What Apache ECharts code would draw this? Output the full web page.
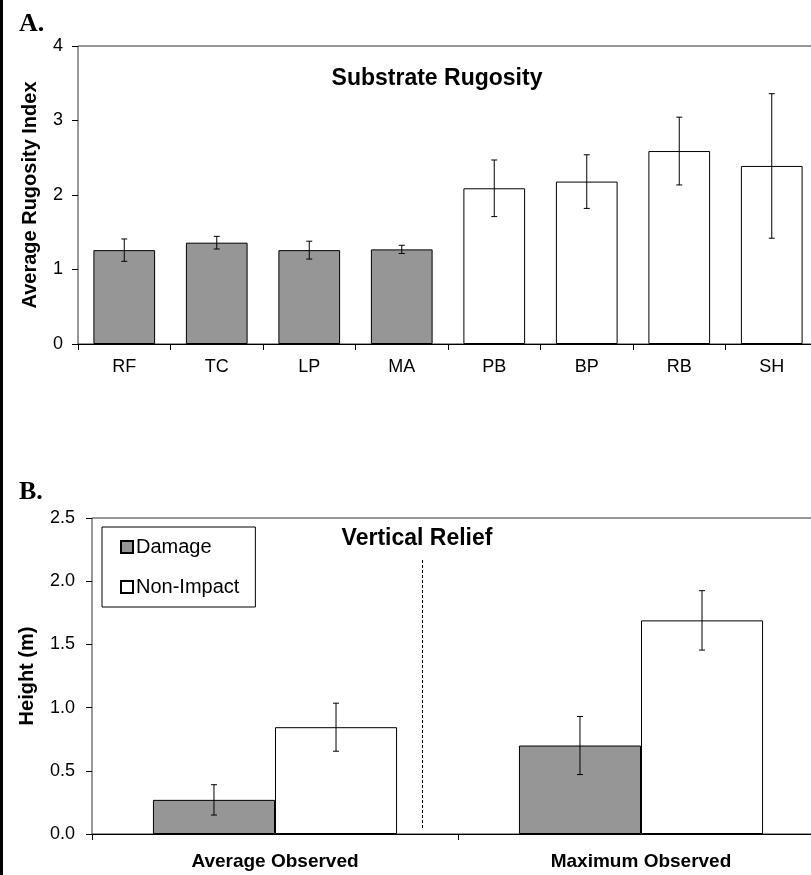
<!DOCTYPE html>
<html>
<head>
<meta charset="utf-8">
<script src="https://cdn.jsdelivr.net/npm/echarts@6/dist/echarts.min.js"></script>
<style>
  html, body { margin: 0; padding: 0; background: #fff; overflow: hidden; }
  /* plot areas run past the right edge of the page, so the canvas is a bit wider */
  #chart { width: 830px; height: 875px; }
</style>
</head>
<body>
<div id="chart"></div>
<script>
// Panel A: substrate rugosity by site
const sites = ['RF', 'TC', 'LP', 'MA', 'PB', 'BP', 'RB', 'SH'];
const rugosityMean = [1.26, 1.36, 1.26, 1.27, 2.09, 2.18, 2.59, 2.39];
const rugosityErr = [0.15, 0.085, 0.12, 0.055, 0.38, 0.36, 0.455, 0.97];
const siteDamaged = [true, true, true, true, false, false, false, false];

// Panel B: vertical relief
const reliefCats = ['Average Observed', 'Maximum Observed'];
const damageHeight = [0.27, 0.70];
const damageErr = [0.12, 0.23];
const nonImpactHeight = [0.845, 1.69];
const nonImpactErr = [0.19, 0.235];

const FONT = "'Liberation Sans', Arial, sans-serif";
const GRAY = '#969696';
const CAT_GAP = 0.333;

// error bar rows: [categoryIndex, low, high]
function errRows(means, errs) {
  return means.map((m, i) => [i, m - errs[i], m + errs[i]]);
}

// vertical whisker with small caps; slot/slots place it over grouped bars
function whisker(slot, slots) {
  return function (params, api) {
    const band = api.size([1, 0])[0];
    const barW = band * (1 - CAT_GAP) / slots;
    const cx = api.coord([api.value(0), 0])[0] + (slot - (slots - 1) / 2) * barW;
    const lo = api.coord([api.value(0), api.value(1)])[1];
    const hi = api.coord([api.value(0), api.value(2)])[1];
    const cap = 3;
    const style = { stroke: '#000', lineWidth: 1 };
    return {
      type: 'group',
      children: [
        { type: 'line', shape: { x1: cx, y1: lo, x2: cx, y2: hi }, style },
        { type: 'line', shape: { x1: cx - cap, y1: hi, x2: cx + cap, y2: hi }, style },
        { type: 'line', shape: { x1: cx - cap, y1: lo, x2: cx + cap, y2: lo }, style }
      ]
    };
  };
}

const axisBase = {
  axisLine: { lineStyle: { color: '#000', width: 1 } },
  axisTick: { show: true, length: 6, lineStyle: { color: '#000' } },
  splitLine: { show: false }
};

const chart = echarts.init(document.getElementById('chart'), null, { renderer: 'canvas' });

chart.setOption({
  animation: false,
  backgroundColor: '#fff',
  textStyle: { fontFamily: FONT, color: '#000' },
  title: [
    { text: 'Substrate Rugosity', left: 432, top: 62, textAlign: 'center',
      textStyle: { fontFamily: FONT, fontSize: 23, fontWeight: 'bold', color: '#000' } },
    { text: 'Vertical Relief', left: 412, top: 522, textAlign: 'center',
      textStyle: { fontFamily: FONT, fontSize: 23, fontWeight: 'bold', color: '#000' } },
    { text: 'A.', left: 14, top: 6,
      textStyle: { fontFamily: "'Liberation Serif', 'Times New Roman', serif", fontSize: 26, fontWeight: 'bold', color: '#000' } },
    { text: 'B.', left: 14, top: 474,
      textStyle: { fontFamily: "'Liberation Serif', 'Times New Roman', serif", fontSize: 26, fontWeight: 'bold', color: '#000' } }
  ],
  legend: {
    data: ['Damage', 'Non-Impact'],
    orient: 'vertical',
    left: 102, top: 527,
    padding: [10, 16, 10, 18],
    itemGap: 20,
    itemWidth: 12, itemHeight: 12,
    icon: 'rect',
    borderColor: '#000', borderWidth: 1,
    backgroundColor: '#fff',
    textStyle: { fontFamily: FONT, fontSize: 20, color: '#000', padding: [0, 0, 0, -2] }
  },
  grid: [
    { left: 78, top: 46, width: 740, height: 298, show: true, borderColor: '#333', borderWidth: 1, backgroundColor: 'transparent' },
    { left: 92, top: 518, width: 732, height: 316, show: true, borderColor: '#333', borderWidth: 1, backgroundColor: 'transparent' }
  ],
  xAxis: [
    Object.assign({}, axisBase, {
      type: 'category', gridIndex: 0, data: sites,
      axisLabel: { fontFamily: FONT, fontSize: 18, color: '#000', margin: 14 }
    }),
    Object.assign({}, axisBase, {
      type: 'category', gridIndex: 1, data: reliefCats,
      axisLabel: { fontFamily: FONT, fontSize: 19, fontWeight: 'bold', color: '#000', margin: 18 }
    })
  ],
  yAxis: [
    Object.assign({}, axisBase, {
      type: 'value', gridIndex: 0, min: 0, max: 4, interval: 1,
      name: 'Average Rugosity Index', nameLocation: 'middle', nameGap: 38,
      nameTextStyle: { fontFamily: FONT, fontSize: 20, fontWeight: 'bold', color: '#000' },
      axisLabel: { fontFamily: FONT, fontSize: 18, color: '#000', margin: 15 }
    }),
    Object.assign({}, axisBase, {
      type: 'value', gridIndex: 1, min: 0, max: 2.5, interval: 0.5,
      name: 'Height (m)', nameLocation: 'middle', nameGap: 55,
      nameTextStyle: { fontFamily: FONT, fontSize: 20, fontWeight: 'bold', color: '#000' },
      axisLabel: { fontFamily: FONT, fontSize: 18, color: '#000', margin: 17,
        formatter: v => v.toFixed(1) }
    })
  ],
  series: [
    {
      name: 'Rugosity', type: 'bar', xAxisIndex: 0, yAxisIndex: 0,
      barCategoryGap: '33.3%',
      data: rugosityMean,
      itemStyle: {
        color: p => siteDamaged[p.dataIndex] ? GRAY : '#fff',
        borderColor: '#000', borderWidth: 1
      }
    },
    {
      name: 'Rugosity error', type: 'custom', xAxisIndex: 0, yAxisIndex: 0,
      renderItem: whisker(0, 1),
      encode: { x: 0, y: [1, 2] },
      data: errRows(rugosityMean, rugosityErr),
      z: 5
    },
    {
      name: 'Damage', type: 'bar', xAxisIndex: 1, yAxisIndex: 1,
      barGap: '0%', barCategoryGap: '33.3%',
      data: damageHeight,
      itemStyle: { color: GRAY, borderColor: '#000', borderWidth: 1 }
    },
    {
      name: 'Non-Impact', type: 'bar', xAxisIndex: 1, yAxisIndex: 1,
      barGap: '0%', barCategoryGap: '33.3%',
      data: nonImpactHeight,
      itemStyle: { color: '#fff', borderColor: '#000', borderWidth: 1 }
    },
    {
      name: 'Damage error', type: 'custom', xAxisIndex: 1, yAxisIndex: 1,
      renderItem: whisker(0, 2),
      encode: { x: 0, y: [1, 2] },
      data: errRows(damageHeight, damageErr),
      z: 5
    },
    {
      name: 'Non-Impact error', type: 'custom', xAxisIndex: 1, yAxisIndex: 1,
      renderItem: whisker(1, 2),
      encode: { x: 0, y: [1, 2] },
      data: errRows(nonImpactHeight, nonImpactErr),
      z: 5
    }
  ],
  graphic: [
    // page frame edge on the left
    { type: 'rect', left: 0, top: 0, shape: { x: 0, y: 0, width: 3, height: 875 },
      style: { fill: '#000' }, silent: true },
    // dashed divider between the two relief groups
    { type: 'line', shape: { x1: 422.5, y1: 560, x2: 422.5, y2: 830 },
      style: { stroke: '#000', lineWidth: 1, lineDash: [3, 2] }, silent: true }
  ]
});
</script>
</body>
</html>
